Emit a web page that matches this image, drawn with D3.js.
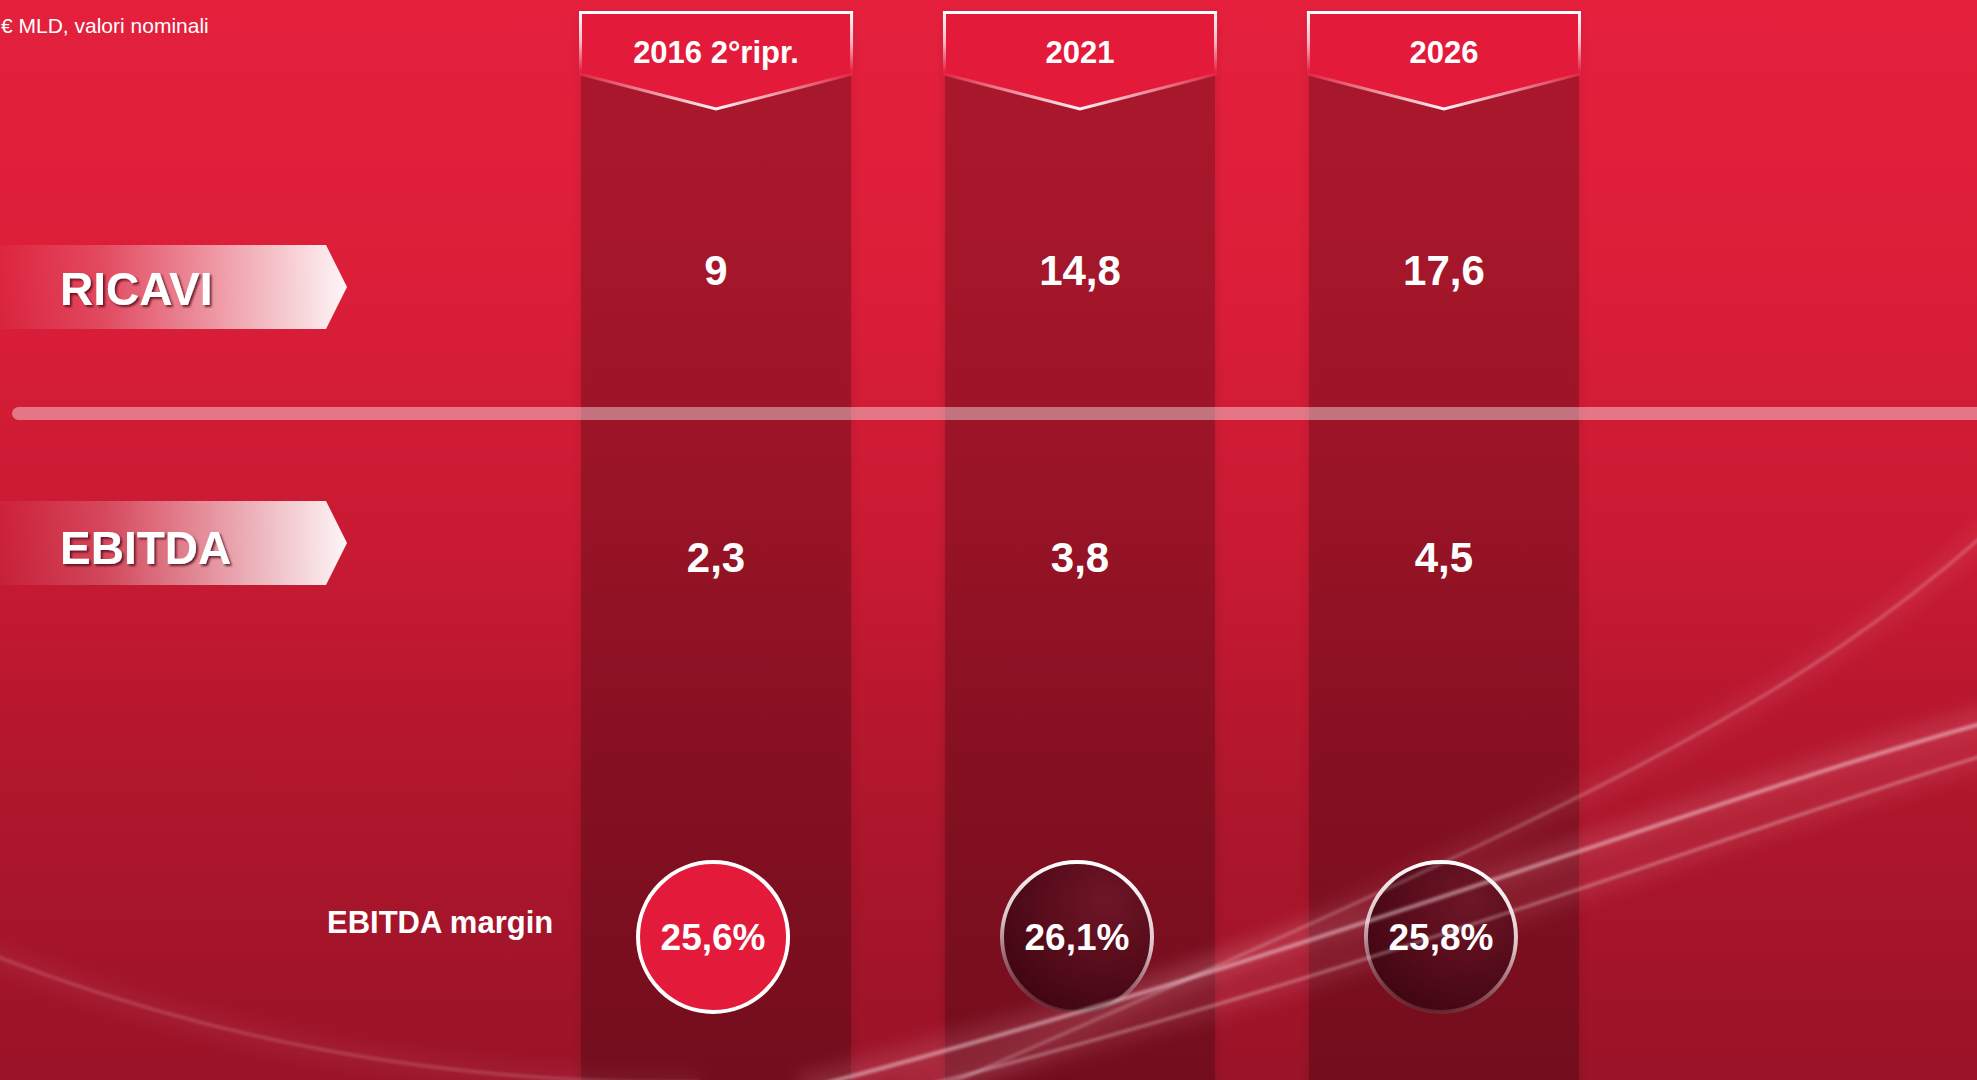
<!DOCTYPE html>
<html>
<head>
<meta charset="utf-8">
<script src="https://cdn.jsdelivr.net/npm/d3@7"></script>
<style>
  html, body { margin: 0; padding: 0; overflow: hidden; background: #c01a33; }
  svg { display: block; }
  text { font-family: "Liberation Sans", Arial, Helvetica, sans-serif; }
</style>
</head>
<body>
<svg id="chart" width="1977" height="1080"></svg>
<script>
// ---- data ----
const years = ["2016 2°ripr.", "2021", "2026"];
const ricavi = [9, 14.8, 17.6];
const ebitda = [2.3, 3.8, 4.5];
const margin = [25.6, 26.1, 25.8];
const rowLabels = ["RICAVI", "EBITDA"];
const unitNote = "€ MLD, valori nominali";
const marginLabel = "EBITDA margin";

const W = 1977, H = 1080;
const svg = d3.select("#chart");
const defs = svg.append("defs");

const it = d3.formatLocale({decimal: ",", thousands: ".", grouping: [3], currency: ["€", ""]});
const fmtVal = it.format(".1~f");
const fmtPct = v => it.format(".1f")(v) + "%";

// scales
const x = d3.scaleBand().domain(years).range([581, 1579]).paddingInner(0.258).paddingOuter(0);
const labelY = d3.scalePoint().domain(rowLabels).range([287, 543]);
const valueY = d3.scalePoint().domain(rowLabels).range([285, 572]);
const cx = d => x(d) + x.bandwidth() / 2;

// ---- gradients / filters ----
const bg = defs.append("linearGradient").attr("id", "bg").attr("x1", 0).attr("y1", 0).attr("x2", 0).attr("y2", 1);
[[0, "#e4203d"], [0.25, "#dc1e39"], [0.5, "#c91a33"], [0.75, "#ae162c"], [1, "#9a1328"]]
  .forEach(([o, c]) => bg.append("stop").attr("offset", o).attr("stop-color", c));

const lab = defs.append("linearGradient").attr("id", "labGrad").attr("x1", 0).attr("x2", 1).attr("y1", 0).attr("y2", 0);
[[0, 0.03], [0.3, 0.2], [0.6, 0.52], [1, 0.96]]
  .forEach(([o, a]) => lab.append("stop").attr("offset", o).attr("stop-color", "#ffffff").attr("stop-opacity", a));

const chev = defs.append("linearGradient").attr("id", "chevGrad").attr("x1", 0).attr("x2", 1).attr("y1", 0).attr("y2", 0);
[[0, 0.05], [0.5, 0.95], [1, 0.05]]
  .forEach(([o, a]) => chev.append("stop").attr("offset", o).attr("stop-color", "#ffffff").attr("stop-opacity", a));

const side = defs.append("linearGradient").attr("id", "sideGrad").attr("x1", 0).attr("x2", 0).attr("y1", 0).attr("y2", 1);
[[0, 1], [0.5, 0.7], [1, 0]]
  .forEach(([o, a]) => side.append("stop").attr("offset", o).attr("stop-color", "#ffffff").attr("stop-opacity", a));

const dark = defs.append("radialGradient").attr("id", "darkCircle")
  .attr("cx", 0.65).attr("cy", 0.3).attr("r", 0.85).attr("fx", 0.7).attr("fy", 0.25);
[[0, "#6f1628"], [0.45, "#5a0d1c"], [1, "#3a0410"]]
  .forEach(([o, c]) => dark.append("stop").attr("offset", o).attr("stop-color", c));

const ring = defs.append("linearGradient").attr("id", "ringGrad").attr("x1", 0.5).attr("x2", 0.3).attr("y1", 0).attr("y2", 1);
[[0, "#ffffff", 1], [0.45, "#e8d8dc", 0.9], [1, "#6a2a34", 0.6]]
  .forEach(([o, c, a]) => ring.append("stop").attr("offset", o).attr("stop-color", c).attr("stop-opacity", a));

const shadow = defs.append("filter").attr("id", "tshadow").attr("x", -0.1).attr("y", -0.2).attr("width", 1.3).attr("height", 1.5);
shadow.append("feDropShadow").attr("dx", 2).attr("dy", 2).attr("stdDeviation", 1.2)
  .attr("flood-color", "#4a0010").attr("flood-opacity", 0.75);

const blurS = defs.append("filter").attr("id", "blurS").attr("x", -0.1).attr("y", -0.5).attr("width", 1.2).attr("height", 2);
blurS.append("feGaussianBlur").attr("stdDeviation", 1.6);
const blurL = defs.append("filter").attr("id", "blurL").attr("x", -0.2).attr("y", -0.5).attr("width", 1.4).attr("height", 2);
blurL.append("feGaussianBlur").attr("stdDeviation", 9);
const colEdge = defs.append("filter").attr("id", "colEdge").attr("x", -0.1).attr("y", -0.1).attr("width", 1.2).attr("height", 1.2);
colEdge.append("feGaussianBlur").attr("stdDeviation", 3);

// ---- background ----
svg.append("rect").attr("width", W).attr("height", H).attr("fill", "url(#bg)");

// ---- columns ----
const cols = svg.append("g");
cols.selectAll("rect.edge").data(years).join("rect").attr("class", "edge")
  .attr("x", d => x(d) - 3).attr("y", 12).attr("width", x.bandwidth() + 6).attr("height", H)
  .attr("fill", "#000").attr("opacity", 0.06).attr("filter", "url(#colEdge)");
cols.selectAll("rect.col").data(years).join("rect").attr("class", "col")
  .attr("x", d => x(d)).attr("y", 12).attr("width", x.bandwidth()).attr("height", H)
  .attr("fill", "#000").attr("opacity", 0.2);

// ---- background streaks ----
const streaks = [
  {d: "M -20,950 C 180,1030 420,1085 700,1082", w: 3, o: 0.2},
  {d: "M 1995,525 C 1800,700 1600,800 940,1088", w: 3, o: 0.28},
  {d: "M 1995,720 C 1700,800 1300,960 800,1090", w: 4, o: 0.5},
  {d: "M 1995,752 C 1720,835 1380,970 900,1092", w: 3, o: 0.38}
];
const sg = svg.append("g");
sg.selectAll("path.glow").data(streaks).join("path").attr("class", "glow")
  .attr("d", s => s.d).attr("fill", "none").attr("stroke", "#ffb0c0")
  .attr("stroke-width", s => s.w * 8).attr("opacity", s => s.o * 0.3).attr("filter", "url(#blurL)");

// ---- divider ----
svg.append("rect").attr("x", 12).attr("y", 407).attr("width", W).attr("height", 13).attr("rx", 6.5)
  .attr("fill", "#ffffff").attr("opacity", 0.4);

// ---- header tabs ----
const hdr = svg.append("g").selectAll("g").data(years).join("g");
const hx0 = d => x(d) - 2, hx1 = d => x(d) + x.bandwidth() + 2;
hdr.append("path")
  .attr("d", d => `M${hx0(d)},12 L${hx1(d)},12 L${hx1(d)},75 L${cx(d)},110 L${hx0(d)},75 Z`)
  .attr("fill", "#e31a3a");
hdr.append("path")
  .attr("d", d => `M${hx0(d)},74 L${cx(d)},109 L${hx1(d)},74`)
  .attr("fill", "none").attr("stroke", "url(#chevGrad)").attr("stroke-width", 3);
hdr.append("rect").attr("x", d => hx0(d)).attr("y", 11).attr("width", d => hx1(d) - hx0(d)).attr("height", 3).attr("fill", "#fff");
hdr.append("rect").attr("x", d => hx0(d)).attr("y", 11).attr("width", 3).attr("height", 62).attr("fill", "url(#sideGrad)");
hdr.append("rect").attr("x", d => hx1(d) - 3).attr("y", 11).attr("width", 3).attr("height", 62).attr("fill", "url(#sideGrad)");
hdr.append("text").attr("x", d => cx(d)).attr("y", 63).attr("text-anchor", "middle")
  .attr("fill", "#fff").attr("font-weight", "bold").attr("font-size", 31).text(d => d);

// ---- row labels ----
const lg = svg.append("g").selectAll("g").data(rowLabels).join("g");
lg.append("path")
  .attr("d", d => { const y = labelY(d); return `M0,${y - 42} L${326},${y - 42} L${347},${y} L${326},${y + 42} L0,${y + 42} Z`; })
  .attr("fill", "url(#labGrad)");
lg.append("text").attr("x", 60).attr("y", d => labelY(d) + (d === "RICAVI" ? 18 : 21))
  .attr("fill", "#fff").attr("font-weight", "bold").attr("font-size", 46).attr("filter", "url(#tshadow)")
  .text(d => d);

// ---- values ----
const valRows = [ricavi, ebitda];
rowLabels.forEach((r, i) => {
  svg.append("g").selectAll("text").data(years).join("text")
    .attr("x", d => cx(d)).attr("y", valueY(r)).attr("text-anchor", "middle")
    .attr("fill", "#fff").attr("font-weight", "bold").attr("font-size", 42)
    .text((d, j) => fmtVal(valRows[i][j]));
});

// ---- EBITDA margin ----
svg.append("text").attr("x", 327).attr("y", 933).attr("fill", "#fff")
  .attr("font-weight", "bold").attr("font-size", 31).text(marginLabel);

const cg = svg.append("g").selectAll("g").data(years).join("g")
  .attr("transform", d => `translate(${cx(d) - 3},937)`);
cg.append("circle").attr("r", 75)
  .attr("fill", (d, i) => i === 0 ? "#e31a3a" : "url(#darkCircle)")
  .attr("stroke", (d, i) => i === 0 ? "#ffffff" : "url(#ringGrad)")
  .attr("stroke-width", 4);

// streak lines drawn over the circles
const sl = svg.append("g");
sl.selectAll("path").data(streaks).join("path")
  .attr("d", s => s.d).attr("fill", "none").attr("stroke", "#ffe6ec")
  .attr("stroke-width", s => s.w).attr("opacity", s => s.o).attr("filter", "url(#blurS)");

// circle labels on top
svg.append("g").selectAll("text").data(years).join("text")
  .attr("x", d => cx(d) - 3).attr("y", 950).attr("text-anchor", "middle")
  .attr("fill", "#fff").attr("font-weight", "bold").attr("font-size", 37)
  .text((d, i) => fmtPct(margin[i]));

// ---- unit note ----
svg.append("text").attr("x", 1).attr("y", 33).attr("fill", "#fff").attr("font-size", 21).text(unitNote);
</script>
</body>
</html>
